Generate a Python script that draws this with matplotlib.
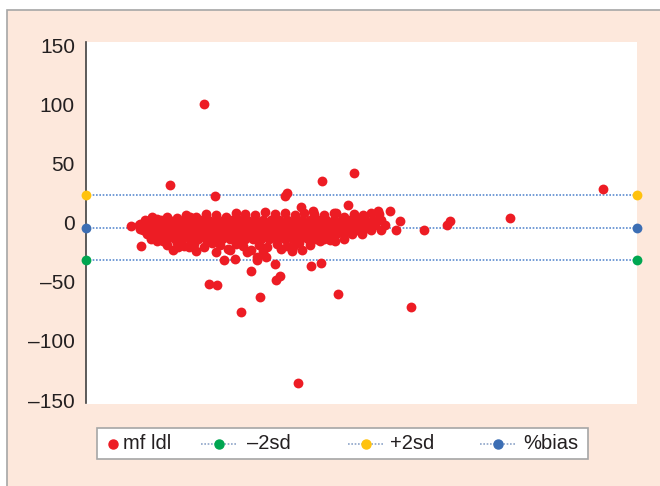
import matplotlib.pyplot as plt
from matplotlib.patches import Rectangle
from matplotlib.lines import Line2D

plt.rcParams['font.family'] = ['Liberation Sans', 'DejaVu Sans']

# limites das linhas (media e +-2 desvios)
bias = -5.0
sd_mais = 23.0
sd_menos = -32.0
x_min, x_max = 0, 280

# pontos isolados (media, diferenca %)
x_iso = [60.0, 42.7, 65.5, 101.1, 102.3, 120.1, 136.2, 262.7, 215.4, 154.6,
         159.6, 157.4, 171.9, 183.3, 185.1, 62.5, 66.7, 84.0, 88.6, 78.9,
         96.2, 96.4, 98.4, 114.5, 119.6, 127.9, 165.1, 107.7, 70.1, 75.6,
         86.7, 27.9, 104.7, 87.0, 91.3, 109.2, 115.5, 127.0, 132.9, 148.2,
         126.7, 22.7, 27.4, 27.4, 39.3, 46.9, 52.3, 33.4, 52.8, 105.3, 113.0]
y_iso = [100, 32, 22, 22, 25, 35, 42, 28, 3.5, 10,
         1, -6, -6, -2, 1, -52, -53, -41, -63, -76,
         -35, -49, -45, -37, -34, -60, -71, -136, -32, -31,
         -32, -20, -24, -29, -29, 13, 10, 8, 15, 10,
         -16, -3, -1, -5.5, -16, -20.5, -20.5, 5, 5, -20.5, -13]

# nuvem densa: borda de cima e de baixo com valores proprios
x_topo = [36, 41, 46, 51, 56, 61, 66, 71, 76, 81, 86, 91, 96, 101, 106, 111,
          116, 121, 126, 131, 136, 141, 145, 149]
y_topo = [3, 5, 4, 6, 5, 7, 6, 5, 8, 7, 6, 9, 7, 8, 6, 8, 7, 6, 8, 5, 7, 6, 8, 7]
x_l2 = [30, 34, 38, 42, 46, 50, 54, 58, 62, 66, 70, 74, 78, 82, 86, 90, 94,
        98, 102, 106, 110, 114, 118, 122, 126, 130, 134, 138, 142, 146, 150]
x_m2 = [27, 31, 35, 39, 43, 47, 51, 55, 59, 63, 67, 71, 75, 79, 83, 87, 91,
        95, 99, 103, 107, 111, 115, 119, 123, 127, 131, 135, 139, 143, 147, 152]
x_m6 = [29, 33, 37, 41, 45, 49, 53, 57, 61, 65, 69, 73, 77, 81, 85, 89, 93,
        97, 101, 105, 109, 113, 117, 121, 125, 129, 133, 137, 141, 145, 150]
x_m10 = [31, 35, 39, 43, 47, 51, 55, 59, 63, 67, 71, 75, 79, 83, 87, 91, 95,
         99, 103, 107, 111, 115, 119, 123, 127, 131, 135, 140]
x_m14 = [33, 37, 41, 45, 49, 53, 57, 61, 65, 69, 73, 77, 81, 85, 89, 93, 97,
         101, 105, 109, 113, 117, 121, 125, 131]
x_base = [36, 41, 46, 50, 55, 60, 64, 68, 72, 76, 80, 84, 88, 92, 97, 102,
          108, 114, 119, 124]
y_base = [-16, -19, -17, -20, -18, -21, -17, -19, -22, -18, -20, -23, -19, -21,
          -18, -20, -17, -19, -16, -15]
x_m22 = [44, 56, 66, 73, 82, 90, 99, 110]
y_m22 = [-23, -24, -25, -23, -25, -24, -22, -23]

nuvem_x = x_topo + x_l2 + x_m2 + x_m6 + x_m10 + x_m14 + x_base + x_m22
nuvem_y = (y_topo + [2] * len(x_l2) + [-2] * len(x_m2) + [-6] * len(x_m6)
           + [-10] * len(x_m10) + [-14] * len(x_m14) + y_base + y_m22)

nomes = ['mf ldl', '\u20132sd', '+2sd', '%bias']

vermelho = '#ed1c24'
verde = '#00a651'
amarelo = '#ffc20e'
azul = '#3c6eb4'
linha = '#5b8bd0'

W, H = 660, 486
fig = plt.figure(figsize=(6.6, 4.86), dpi=100)
fig.patch.set_facecolor('white')


def px(x, y):
    # pixel (a partir do topo) -> coordenadas da figura
    return x / W, 1 - y / H


# moldura pessego
fig.patches.append(Rectangle(px(7, 500), 1.0, (500 - 10) / H,
                             transform=fig.transFigure, facecolor='#fde8dc',
                             edgecolor='#a6a6a6', linewidth=1.2, zorder=-5))
# area branca do grafico (um pouco maior que os eixos)
fig.patches.append(Rectangle(px(86, 404), 551 / W, 362 / H,
                             transform=fig.transFigure, facecolor='white',
                             edgecolor='none', zorder=-4))

ax = fig.add_axes([86 / W, 1 - 400 / H, 551 / W, 355 / H])
ax.patch.set_visible(False)

ax.scatter(nuvem_x, nuvem_y, s=50, color=vermelho, linewidths=0, zorder=3)
ax.scatter(x_iso, y_iso, s=50, color=vermelho, linewidths=0, zorder=3)

for valor, cor in [(sd_menos, verde), (sd_mais, amarelo), (bias, azul)]:
    ax.plot([x_min, x_max], [valor, valor], linestyle=(0, (1, 1)), color=linha,
            linewidth=1.2, zorder=2)
    ax.scatter([x_min, x_max], [valor, valor], s=50, color=cor, linewidths=0,
               zorder=4, clip_on=False)

ax.set_xlim(x_min, x_max)
ax.set_ylim(-150, 150)
ax.set_yticks([-150, -100, -50, 0, 50, 100, 150])
ax.set_yticklabels(['\u2013150', '\u2013100', '\u201350', '0', '50', '100', '150'])
ax.set_xticks([])
ax.tick_params(axis='y', length=0, pad=8, labelsize=15, labelcolor='#231f20')
for lado in ['top', 'right', 'bottom']:
    ax.spines[lado].set_visible(False)
ax.spines['left'].set_color('#404040')
ax.spines['left'].set_linewidth(1.2)
ax.spines['left'].set_bounds(-152.5, 152.5)

# legenda desenhada a mao (espacamento irregular como no original)
fig.patches.append(Rectangle(px(97, 459), 491 / W, 31 / H,
                             transform=fig.transFigure, facecolor='white',
                             edgecolor='#a6a6a6', linewidth=1.2, zorder=5))
yl = 443.5
fig.lines.append(Line2D([px(113, yl)[0]], [px(113, yl)[1]], marker='o',
                        color=vermelho, markersize=6.5, linestyle='none',
                        transform=fig.transFigure, zorder=6))
fig.text(*px(123, yl), nomes[0], fontsize=14.5, color='#231f20', va='center',
         ha='left', zorder=6)
for (x0, x1, xt), cor, nome in zip([(201, 237, 247), (348, 383, 390), (480, 515, 523)],
                                   [verde, amarelo, azul], nomes[1:]):
    fig.lines.append(Line2D([px(x0, yl)[0], px(x1, yl)[0]], [px(x0, yl)[1]] * 2,
                            linestyle=(0, (1, 1)), color='#8ea4c8', linewidth=1.2,
                            transform=fig.transFigure, zorder=6))
    xm = (x0 + x1) / 2
    fig.lines.append(Line2D([px(xm, yl)[0]], [px(xm, yl)[1]], marker='o',
                            color=cor, markersize=6.5, linestyle='none',
                            transform=fig.transFigure, zorder=7))
    fig.text(*px(xt, yl), nome, fontsize=14.5, color='#231f20', va='center',
             ha='left', zorder=6)

fig.savefig('out.png', dpi=100, facecolor=fig.get_facecolor())
